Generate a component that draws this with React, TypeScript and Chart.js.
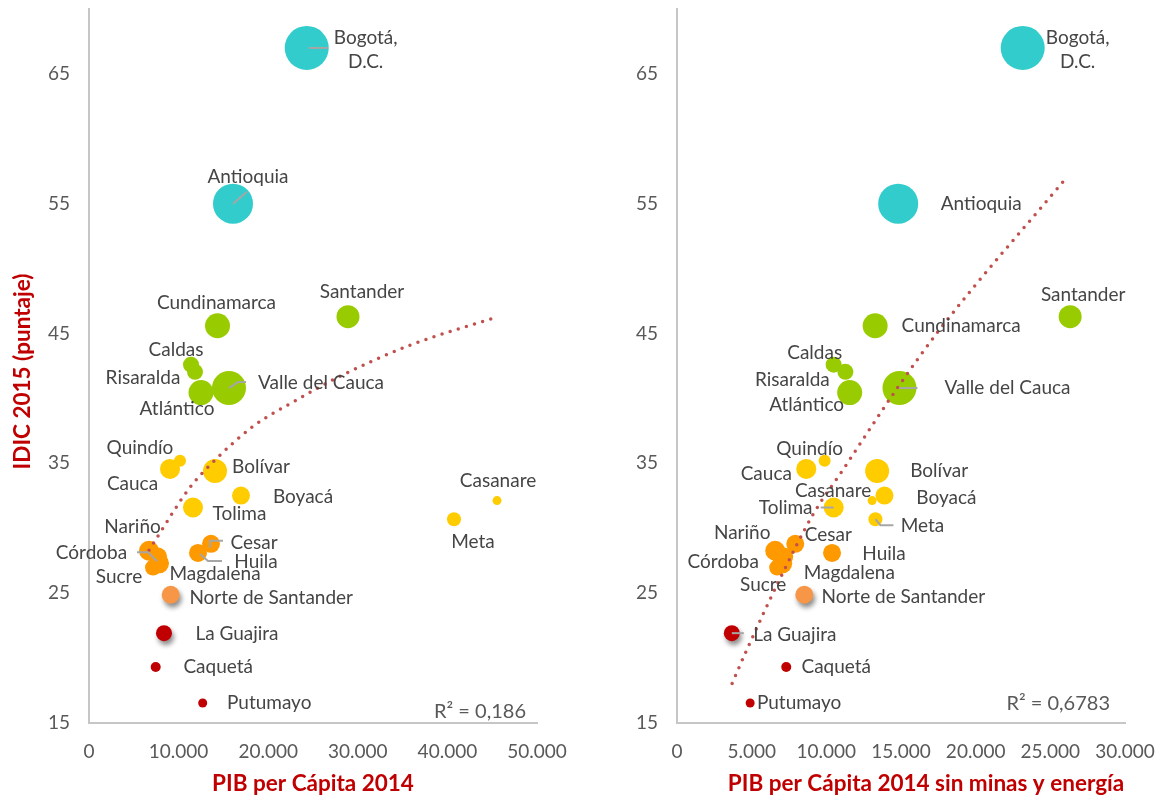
import React, { useEffect, useRef } from 'react';
import { Chart, registerables } from 'chart.js';

Chart.register(...registerables);

// ---------------- DATA ----------------
const departamentos = [
  'Bogotá, D.C.', 'Antioquia', 'Santander', 'Cundinamarca', 'Caldas', 'Risaralda',
  'Atlántico', 'Valle del Cauca', 'Quindío', 'Cauca', 'Bolívar', 'Boyacá', 'Tolima',
  'Casanare', 'Meta', 'Cesar', 'Huila', 'Nariño', 'Magdalena', 'Córdoba', 'Sucre',
  'Norte de Santander', 'La Guajira', 'Caquetá', 'Putumayo',
];

// IDIC 2015 (puntaje)
const idic2015 = [
  67.0, 55.0, 46.3, 45.6, 42.6, 42.05,
  40.45, 40.8, 35.2, 34.57, 34.42, 32.52, 31.6,
  32.13, 30.7, 28.8, 28.1, 28.27, 27.82, 27.3, 26.97,
  24.88, 21.92, 19.31, 16.54,
];

// PIB per cápita 2014
const pib2014 = [
  24300, 16071, 28906, 14342, 11384, 11830,
  12500, 15625, 10156, 9040, 14062, 16964, 11607,
  45536, 40737, 13616, 12165, 6696, 7701, 7812, 7143,
  9118, 8370, 7444, 12689,
];

// PIB per cápita 2014 sin minas y energía
const pib2014SinMinas = [
  23150, 14811, 26327, 13268, 10490, 11275,
  11563, 14899, 9885, 8657, 13402, 13892, 10490,
  13066, 13288, 7919, 10382, 6577, 7181, 7047, 6711,
  8523, 3671, 7315, 4899,
];

// bubble size (radius, px)
const tamanos = [
  22, 20, 11.5, 12.5, 8, 8,
  12.5, 17, 6, 10, 12, 9, 10,
  4.5, 7, 9, 9, 10, 9, 10, 8,
  9, 8, 5, 4.5,
];

const grupos = [
  'alto', 'alto', 'medioAlto', 'medioAlto', 'medioAlto', 'medioAlto',
  'medioAlto', 'medioAlto', 'medio', 'medio', 'medio', 'medio', 'medio',
  'medio', 'medio', 'medioBajo', 'medioBajo', 'medioBajo', 'medioBajo', 'medioBajo', 'medioBajo',
  'bajo', 'muyBajo', 'muyBajo', 'muyBajo',
];

const destacados = ['Norte de Santander', 'La Guajira'];

// trend lines
const tendenciaPibX = [6696, 7589, 11272, 14286, 18304, 23214, 27567, 35826, 45647];
const tendenciaPibY = [28.3, 29.28, 33.15, 35.4, 37.85, 39.9, 41.55, 44.1, 46.3];
const tendenciaSinX = [3691, 4698, 6913, 9128, 11074, 14765, 17651, 26174];
const tendenciaSinY = [18.05, 20.7, 26.15, 31.1, 34.44, 40.82, 45.4, 57.13];

const yTicks = [15, 25, 35, 45, 55, 65];
const xTicksPib = [0, 10000, 20000, 30000, 40000, 50000];
const xTicksSin = [0, 5000, 10000, 15000, 20000, 25000, 30000];

// ---------------- STYLE ----------------
const colorGrupo: Record<string, string> = {
  alto: '#33CCCC',
  medioAlto: '#99CC00',
  medio: '#FFCC00',
  medioBajo: '#FF9900',
  bajo: '#F79646',
  muyBajo: '#C00000',
};

const FONT = 'Lato, "Noto Sans", sans-serif';
const TEXT = '#595959';
const LABEL = '#454545';
const RED = '#C00000';

type LabelSpec = { dx: number; dy: number; leader?: number[][] };

const etiquetasPib: Record<string, LabelSpec> = {
  'Bogotá, D.C.': { dx: 59, dy: 2, leader: [[2, 0], [21, 0]] },
  'Antioquia': { dx: 15, dy: -27, leader: [[0, 0], [14, -12]] },
  'Santander': { dx: 14, dy: -25 },
  'Cundinamarca': { dx: -1, dy: -23 },
  'Caldas': { dx: -15, dy: -15 },
  'Risaralda': { dx: -52, dy: 6 },
  'Atlántico': { dx: -24, dy: 16 },
  'Valle del Cauca': { dx: 92, dy: -5, leader: [[0, 0], [9, -6], [17, -6]] },
  'Quindío': { dx: -40, dy: -13 },
  'Cauca': { dx: -37.5, dy: 15 },
  'Bolívar': { dx: 46, dy: -4 },
  'Boyacá': { dx: 62, dy: 1 },
  'Tolima': { dx: 46.5, dy: 6 },
  'Casanare': { dx: 1, dy: -20 },
  'Meta': { dx: 19, dy: 23 },
  'Cesar': { dx: 43, dy: -1, leader: [[-1, 4], [-1, -3], [12, -3]] },
  'Huila': { dx: 58, dy: 9, leader: [[2, 1], [10, 8], [24, 8]] },
  'Nariño': { dx: -16.5, dy: -24 },
  'Magdalena': { dx: 57, dy: 17 },
  'Córdoba': { dx: -67.5, dy: -10, leader: [[-22, -11], [-11, -11], [-2, -2]] },
  'Sucre': { dx: -34, dy: 9 },
  'Norte de Santander': { dx: 100.5, dy: 3 },
  'La Guajira': { dx: 73, dy: 1 },
  'Caquetá': { dx: 62.5, dy: 0 },
  'Putumayo': { dx: 66.5, dy: 0 },
};

const etiquetasSin: Record<string, LabelSpec> = {
  'Bogotá, D.C.': { dx: 55, dy: 2 },
  'Antioquia': { dx: 83, dy: 0 },
  'Santander': { dx: 13, dy: -22 },
  'Cundinamarca': { dx: 86, dy: 0 },
  'Caldas': { dx: -19, dy: -12 },
  'Risaralda': { dx: -53, dy: 8 },
  'Atlántico': { dx: -43, dy: 12.6 },
  'Valle del Cauca': { dx: 108, dy: 0, leader: [[0, 0], [18, 0]] },
  'Quindío': { dx: -15, dy: -12 },
  'Cauca': { dx: -40, dy: 5 },
  'Bolívar': { dx: 62, dy: 0 },
  'Boyacá': { dx: 62, dy: 2 },
  'Tolima': { dx: -48, dy: 0, leader: [[-13, 0], [0, 0]] },
  'Casanare': { dx: -39, dy: -10 },
  'Meta': { dx: 47, dy: 7, leader: [[0, 0], [5, 6], [18, 6]] },
  'Cesar': { dx: 33, dy: -9 },
  'Huila': { dx: 52, dy: 1 },
  'Nariño': { dx: -33, dy: -18 },
  'Magdalena': { dx: 65, dy: 16 },
  'Córdoba': { dx: -59, dy: -1 },
  'Sucre': { dx: -14, dy: 17 },
  'Norte de Santander': { dx: 99, dy: 2 },
  'La Guajira': { dx: 63, dy: 2, leader: [[0, 0], [12, 0]] },
  'Caquetá': { dx: 50, dy: 0 },
  'Putumayo': { dx: 49, dy: 0 },
};

const fmtMiles = (v: number) => String(v).replace(/\B(?=(\d{3})+(?!\d))/g, '.');

type PanelProps = {
  xValues: number[];
  trendX: number[];
  trendY: number[];
  xMax: number;
  xTicks: number[];
  xTitle: string;
  xTitleShift: number;
  yTitle?: string;
  r2: string;
  r2Right: number;
  r2Y: number;
  labels: Record<string, LabelSpec>;
  width: number;
  left: number;
  area: { left: number; right: number; top: number; bottom: number };
};

function BubblePanel(p: PanelProps) {
  const ref = useRef<HTMLCanvasElement | null>(null);

  useEffect(() => {
    if (!ref.current) return;
    const H = 800;

    const datasets: any[] = [
      {
        type: 'line',
        data: p.trendX.map((x, i) => ({ x, y: p.trendY[i] })),
        borderColor: '#C0504D',
        borderWidth: 3.5,
        borderDash: [0, 8.5],
        borderCapStyle: 'round',
        pointRadius: 0,
        cubicInterpolationMode: 'monotone',
        fill: false,
        order: 0,
      },
      ...departamentos.map((name, i) => ({
        type: 'bubble',
        label: name,
        data: [{ x: p.xValues[i], y: idic2015[i], r: tamanos[i] }],
        backgroundColor: colorGrupo[grupos[i]],
        borderWidth: 0,
        hoverBorderWidth: 0,
        order: 1,
        shadow: destacados.includes(name),
      })),
    ];

    const shadowPlugin = {
      id: 'shadow',
      beforeDatasetDraw(chart: any, args: any) {
        const ds = chart.data.datasets[args.index];
        if (ds.shadow) {
          const ctx = chart.ctx;
          ctx.save();
          ctx.shadowColor = 'rgba(0,0,0,0.45)';
          ctx.shadowBlur = 5;
          ctx.shadowOffsetX = 2;
          ctx.shadowOffsetY = 4;
        }
      },
      afterDatasetDraw(chart: any, args: any) {
        const ds = chart.data.datasets[args.index];
        if (ds.shadow) chart.ctx.restore();
      },
    };

    const labelPlugin = {
      id: 'labels',
      afterDatasetsDraw(chart: any) {
        const ctx = chart.ctx;
        ctx.save();
        ctx.strokeStyle = '#A6A6A6';
        ctx.lineWidth = 2;
        departamentos.forEach((name, i) => {
          const spec = p.labels[name];
          if (!spec || !spec.leader) return;
          const el = chart.getDatasetMeta(i + 1).data[0];
          ctx.beginPath();
          spec.leader.forEach(([lx, ly], k) => {
            if (k === 0) ctx.moveTo(el.x + lx, el.y + ly);
            else ctx.lineTo(el.x + lx, el.y + ly);
          });
          ctx.stroke();
        });
        ctx.fillStyle = LABEL;
        ctx.font = `19px ${FONT}`;
        ctx.textAlign = 'center';
        ctx.textBaseline = 'middle';
        departamentos.forEach((name, i) => {
          const spec = p.labels[name];
          if (!spec) return;
          const el = chart.getDatasetMeta(i + 1).data[0];
          const cx = el.x + spec.dx;
          const cy = el.y + spec.dy;
          const parts = name.includes(', ') ? [name.split(', ')[0] + ',', name.split(', ')[1]] : [name];
          const lh = 24;
          parts.forEach((t, k) => {
            ctx.fillText(t, cx, cy + (k - (parts.length - 1) / 2) * lh);
          });
        });
        ctx.restore();
      },
    };

    const titlePlugin = {
      id: 'titles',
      afterDraw(chart: any) {
        const ctx = chart.ctx;
        const a = chart.chartArea;
        ctx.save();
        ctx.fillStyle = RED;
        ctx.font = `bold 22.5px ${FONT}`;
        ctx.textAlign = 'center';
        ctx.textBaseline = 'middle';
        ctx.fillText(p.xTitle, (a.left + a.right) / 2 + p.xTitleShift, 784);
        if (p.yTitle) {
          ctx.translate(23, (a.top + a.bottom) / 2 + 5.5);
          ctx.rotate(-Math.PI / 2);
          ctx.fillText(p.yTitle, 0, 0);
          ctx.setTransform(1, 0, 0, 1, 0, 0);
        }
        ctx.fillStyle = TEXT;
        ctx.font = `20px ${FONT}`;
        ctx.textAlign = 'right';
        ctx.fillText(p.r2, a.right - p.r2Right, p.r2Y);
        ctx.restore();
      },
    };

    const chart = new Chart(ref.current, {
      type: 'bubble',
      data: { datasets },
      options: {
        responsive: false,
        animation: false,
        events: [],
        layout: {
          autoPadding: false,
          padding: { left: 0, right: p.width - p.area.right, top: p.area.top, bottom: 0 },
        },
        plugins: {
          legend: { display: false },
          tooltip: { enabled: false },
        },
        scales: {
          x: {
            type: 'linear',
            min: 0,
            max: p.xMax,
            afterBuildTicks: (s: any) => {
              s.ticks = p.xTicks.map((v) => ({ value: v }));
            },
            afterFit: (s: any) => {
              s.height = H - p.area.bottom;
              s.paddingLeft = 0;
              s.paddingRight = 0;
            },
            ticks: {
              color: TEXT,
              font: { family: FONT, size: 19 },
              padding: 17,
              maxRotation: 0,
              autoSkip: false,
              callback: (v: any) => fmtMiles(Number(v)),
            },
            grid: { display: false, drawTicks: false },
            border: { display: true, color: '#C6C6C6', width: 2 },
          },
          y: {
            type: 'linear',
            min: 15,
            max: 70,
            afterBuildTicks: (s: any) => {
              s.ticks = yTicks.map((v) => ({ value: v }));
            },
            afterFit: (s: any) => {
              s.width = p.area.left;
              s.paddingTop = 0;
              s.paddingBottom = 0;
            },
            ticks: {
              color: TEXT,
              font: { family: FONT, size: 19 },
              padding: 19,
              autoSkip: false,
            },
            grid: { display: false, drawTicks: false },
            border: { display: true, color: '#C6C6C6', width: 2 },
          },
        },
      } as any,
      plugins: [shadowPlugin, labelPlugin, titlePlugin],
    });

    return () => chart.destroy();
  }, []);

  return (
    <canvas
      ref={ref}
      width={p.width}
      height={800}
      style={{ position: 'absolute', left: p.left, top: 0, width: p.width, height: 800 }}
    />
  );
}

export default function App() {
  return (
    <div style={{ position: 'fixed', left: 0, top: 0, width: 1162, height: 800, background: '#fff' }}>
      <BubblePanel
        xValues={pib2014}
        trendX={tendenciaPibX}
        trendY={tendenciaPibY}
        xMax={50000}
        xTicks={xTicksPib}
        xTitle="PIB per Cápita 2014"
        xTitleShift={0}
        yTitle="IDIC 2015 (puntaje)"
        r2="R² = 0,186"
        r2Right={11}
        r2Y={712}
        labels={etiquetasPib}
        width={580}
        left={0}
        area={{ left: 89, right: 537, top: 9, bottom: 723 }}
      />
      <BubblePanel
        xValues={pib2014SinMinas}
        trendX={tendenciaSinX}
        trendY={tendenciaSinY}
        xMax={30000}
        xTicks={xTicksSin}
        xTitle="PIB per Cápita 2014 sin minas y energía"
        xTitleShift={25}
        r2="R² = 0,6783"
        r2Right={15}
        r2Y={704}
        labels={etiquetasSin}
        width={582}
        left={580}
        area={{ left: 97, right: 545, top: 9, bottom: 723 }}
      />
    </div>
  );
}
